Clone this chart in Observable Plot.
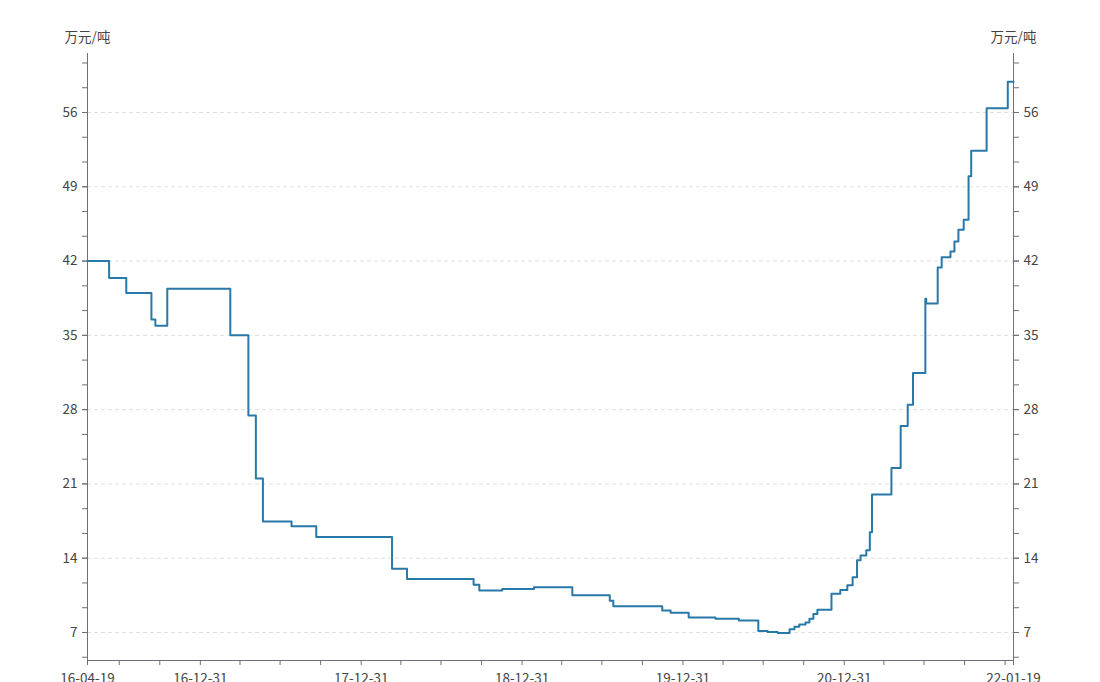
<!DOCTYPE html>
<html>
<head>
<meta charset="utf-8">
<script src="https://cdn.jsdelivr.net/npm/d3@7"></script>
<script src="https://cdn.jsdelivr.net/npm/@observablehq/plot@0.6"></script>
<style>
  html, body { margin: 0; padding: 0; background: #fff; }
</style>
</head>
<body>
<div id="chart"></div>
<script>
// Price series (万元/吨), step changes
const dates = [
  "2016-04-19","2016-06-07","2016-07-16","2016-09-11","2016-09-20","2016-10-17",
  "2017-03-09","2017-04-19","2017-05-06","2017-05-22","2017-07-26","2017-09-20",
  "2018-03-11","2018-04-14","2018-09-12","2018-09-25","2018-11-16",
  "2019-01-27","2019-04-24","2019-07-18","2019-07-26","2019-11-14","2019-12-03",
  "2020-01-13","2020-03-14","2020-05-06","2020-06-19","2020-07-10","2020-08-02",
  "2020-08-29","2020-09-09","2020-09-20","2020-10-04","2020-10-13","2020-10-22",
  "2020-10-31","2020-12-02","2020-12-22",
  "2021-01-07","2021-01-19","2021-01-29","2021-02-06","2021-02-19","2021-02-27",
  "2021-03-04","2021-04-17","2021-05-08","2021-05-24","2021-06-05","2021-07-03",
  "2021-07-05","2021-07-31","2021-08-09","2021-08-29","2021-09-07","2021-09-16",
  "2021-09-28","2021-10-09","2021-10-15","2021-11-19","2022-01-06","2022-01-19"
];
const prices = [
  42.0, 40.4, 39.0, 36.5, 35.9, 39.4,
  35.0, 27.45, 21.5, 17.45, 17.0, 16.0,
  13.0, 12.05, 11.5, 10.96, 11.1,
  11.27, 10.5, 10.0, 9.48, 9.07, 8.85,
  8.41, 8.29, 8.13, 7.15, 7.05, 6.94,
  7.3, 7.55, 7.75, 7.95, 8.3, 8.75,
  9.14, 10.65, 11.0,
  11.45, 12.2, 13.8, 14.25, 14.75, 16.45,
  20.0, 22.5, 26.45, 28.45, 31.45, 38.45,
  38.0, 41.4, 42.35, 42.9, 43.85, 44.95,
  45.9, 50.0, 52.4, 56.4, 58.9, 58.9
];

const yLabelTicks = [7, 14, 21, 28, 35, 42, 49, 56];
const xLabelTicks = ["2016-04-19","2016-12-31","2017-12-31","2018-12-31","2019-12-31","2020-12-31","2022-01-19"];
const xMinorTicks = [
  "2016-06-30","2016-09-30",
  "2017-03-31","2017-06-30","2017-09-30",
  "2018-03-31","2018-06-30","2018-09-30",
  "2019-03-31","2019-06-30","2019-09-30",
  "2020-03-31","2020-06-30","2020-09-30",
  "2021-03-31","2021-06-30","2021-09-30","2021-12-31"
];
const unitLabel = "万元/吨";
const yDomain = [4.36, 61.56];

const parse = d3.utcParse("%Y-%m-%d");
const data = dates.map((d, i) => ({date: parse(d), price: prices[i]}));
const xStart = parse(dates[0]);
const xEnd = parse(dates[dates.length - 1]);
const yMinor = d3.range(-1, 25).map(i => 7 + i * 7 / 3).filter(v => v > yDomain[0] && v < yDomain[1]);

const axisColor = "#6e7079";
const textColor = "#444";

const chart = Plot.plot({
  width: 1100,
  height: 682,
  marginLeft: 87,
  marginRight: 87,
  marginTop: 53,
  marginBottom: 22,
  style: {fontFamily: "'Noto Sans CJK SC', 'Noto Sans', sans-serif", fontSize: "13.5px", color: textColor, background: "#fff"},
  x: {type: "utc", domain: [xStart, xEnd]},
  y: {domain: yDomain},
  marks: [
    Plot.gridY(yLabelTicks, {stroke: "#e0e0e0", strokeOpacity: 1, strokeDasharray: "4,3"}),
    Plot.ruleX([xStart, xEnd], {stroke: axisColor}),
    Plot.ruleY([yDomain[0]], {stroke: axisColor}),
    Plot.axisY({anchor: "left", ticks: yMinor, tickSize: 5, text: null, stroke: axisColor, label: null}),
    Plot.axisY({anchor: "right", ticks: yMinor, tickSize: 5, text: null, stroke: axisColor, label: null}),
    Plot.axisY({anchor: "left", ticks: yLabelTicks, tickSize: 5, tickPadding: 5, stroke: axisColor, fill: textColor, label: null, tickFormat: d => String(d)}),
    Plot.axisY({anchor: "right", ticks: yLabelTicks, tickSize: 5, tickPadding: 5, stroke: axisColor, fill: textColor, label: null, tickFormat: d => String(d)}),
    Plot.axisX({ticks: xMinorTicks.map(parse), tickSize: 5, text: null, stroke: axisColor, label: null}),
    Plot.axisX({ticks: xLabelTicks.map(parse), tickSize: 5, tickPadding: 8, stroke: axisColor, fill: textColor, label: null, tickFormat: d3.utcFormat("%y-%m-%d")}),
    Plot.text([unitLabel], {frameAnchor: "top-left", dy: -21, textAnchor: "middle", fill: textColor}),
    Plot.text([unitLabel], {frameAnchor: "top-right", dy: -21, textAnchor: "middle", fill: textColor}),
    Plot.line(data, {x: "date", y: "price", curve: "step-after", stroke: "#2878a8", strokeWidth: 2})
  ]
});
document.getElementById("chart").appendChild(chart);
</script>
</body>
</html>
